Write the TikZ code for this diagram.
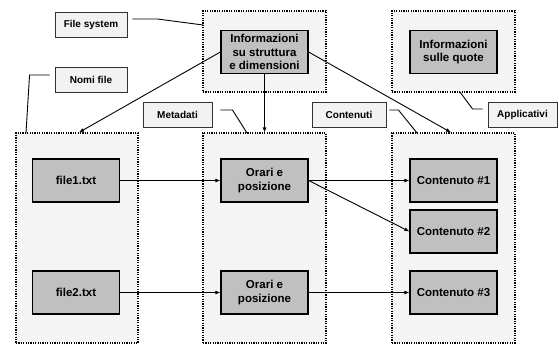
\documentclass[tikz,border=0pt]{standalone}
\usepackage{fontspec}
\setmainfont{Liberation Sans}
\usetikzlibrary{arrows.meta}
\definecolor{outerfill}{HTML}{F4F4F4}
\definecolor{grayfill}{HTML}{C0C0C0}
\definecolor{labelfill}{HTML}{F2F2F2}
\definecolor{labeldraw}{HTML}{333333}
\begin{document}
\begin{tikzpicture}[x=1pt,y=-1pt,
  outerbox/.style={draw=black, fill=outerfill, line width=1.2pt, dash pattern=on 1.2pt off 1.2pt, minimum width=123pt, inner sep=0pt},
  graybox/.style={draw=black, fill=grayfill, line width=1.2pt, minimum width=87pt, minimum height=43pt, inner sep=1pt, align=center, font=\fontsize{11.5}{13.5}\selectfont\bfseries},
  labelbox/.style={draw=labeldraw, fill=labelfill, line width=0.9pt, minimum width=72pt, minimum height=25pt, inner sep=1pt, font=\fontsize{10}{12}\selectfont\bfseries},
  callout/.style={draw=black, line width=0.9pt},
  arr/.style={draw=black, line width=0.9pt, -{Latex[length=5pt,width=4pt]}}
]
\useasboundingbox (0,0) rectangle (559,345);
% outer dotted boxes
\node[outerbox, minimum height=81pt] (fsbox) at (264.5,51.5) {};
\node[outerbox, minimum height=81pt] (appbox) at (453.5,51.5) {};
\node[outerbox, minimum width=122pt, minimum height=210pt] (colL) at (77,238) {};
\node[outerbox, minimum height=210pt] (colM) at (264.5,238) {};
\node[outerbox, minimum height=210pt] (colR) at (453.5,238) {};
% gray boxes
\node[graybox] (info) at (264.5,52) {Informazioni\\su struttura\\e dimensioni};
\node[graybox] (quote) at (453.5,52) {Informazioni\\sulle quote};
\node[graybox] (f1) at (76,180.5) {file1.txt};
\node[graybox] (f2) at (76,292.5) {file2.txt};
\node[graybox] (o1) at (264.5,180.5) {Orari e\\posizione};
\node[graybox] (o2) at (264.5,292.5) {Orari e\\posizione};
\node[graybox] (c1) at (453.5,180.5) {Contenuto \#1};
\node[graybox] (c2) at (453.5,231.5) {Contenuto \#2};
\node[graybox] (c3) at (453.5,292.5) {Contenuto \#3};
% label boxes
\node[labelbox] (lfs) at (91,25) {File system};
\node[labelbox] (lnomi) at (91,79.5) {Nomi file};
\node[labelbox, minimum width=69pt] (lmeta) at (177.5,114.5) {Metadati};
\node[labelbox, minimum width=74pt] (lcont) at (349,114.5) {Contenuti};
\node[labelbox, minimum width=69pt] (lapp) at (522.5,115) {Applicativi};
% callout coordinates
\coordinate (fsend) at (203,25);
\coordinate (nomiend) at (26,133);
\coordinate (metaend) at (247,133);
\coordinate (contend) at (417,133);
\coordinate (append) at (460,92);
% callouts
\draw[callout] ([xshift=5pt,yshift=6pt]lfs.east) -- ++(25,0) -- (fsend);
\draw[callout] ([xshift=-5pt,yshift=4.5pt]lnomi.west) -- ++(-20,0) -- (nomiend);
\draw[callout] ([xshift=8pt,yshift=4.5pt]lmeta.east) -- ++(12,0) -- (metaend);
\draw[callout] ([xshift=3pt,yshift=4.5pt]lcont.east) -- ++(9,0) -- (contend);
\draw[callout] ([xshift=-5pt,yshift=6pt]lapp.west) -- ++(-10,0) -- (append);
% arrows
\draw[arr] (info.west) -- ([xshift=2pt]colL.north);
\draw[arr] (info.south) -- (colM.north);
\draw[arr] (info.east) -- ([xshift=-2.5pt]colR.north);
\draw[arr] (f1.east) -- (o1.west);
\draw[arr] (f2.east) -- (o2.west);
\draw[arr] (o1.east) -- (c1.west);
\draw[arr] (o1.east) -- (c2.west);
\draw[arr] (o2.east) -- (c3.west);
\end{tikzpicture}
\end{document}
